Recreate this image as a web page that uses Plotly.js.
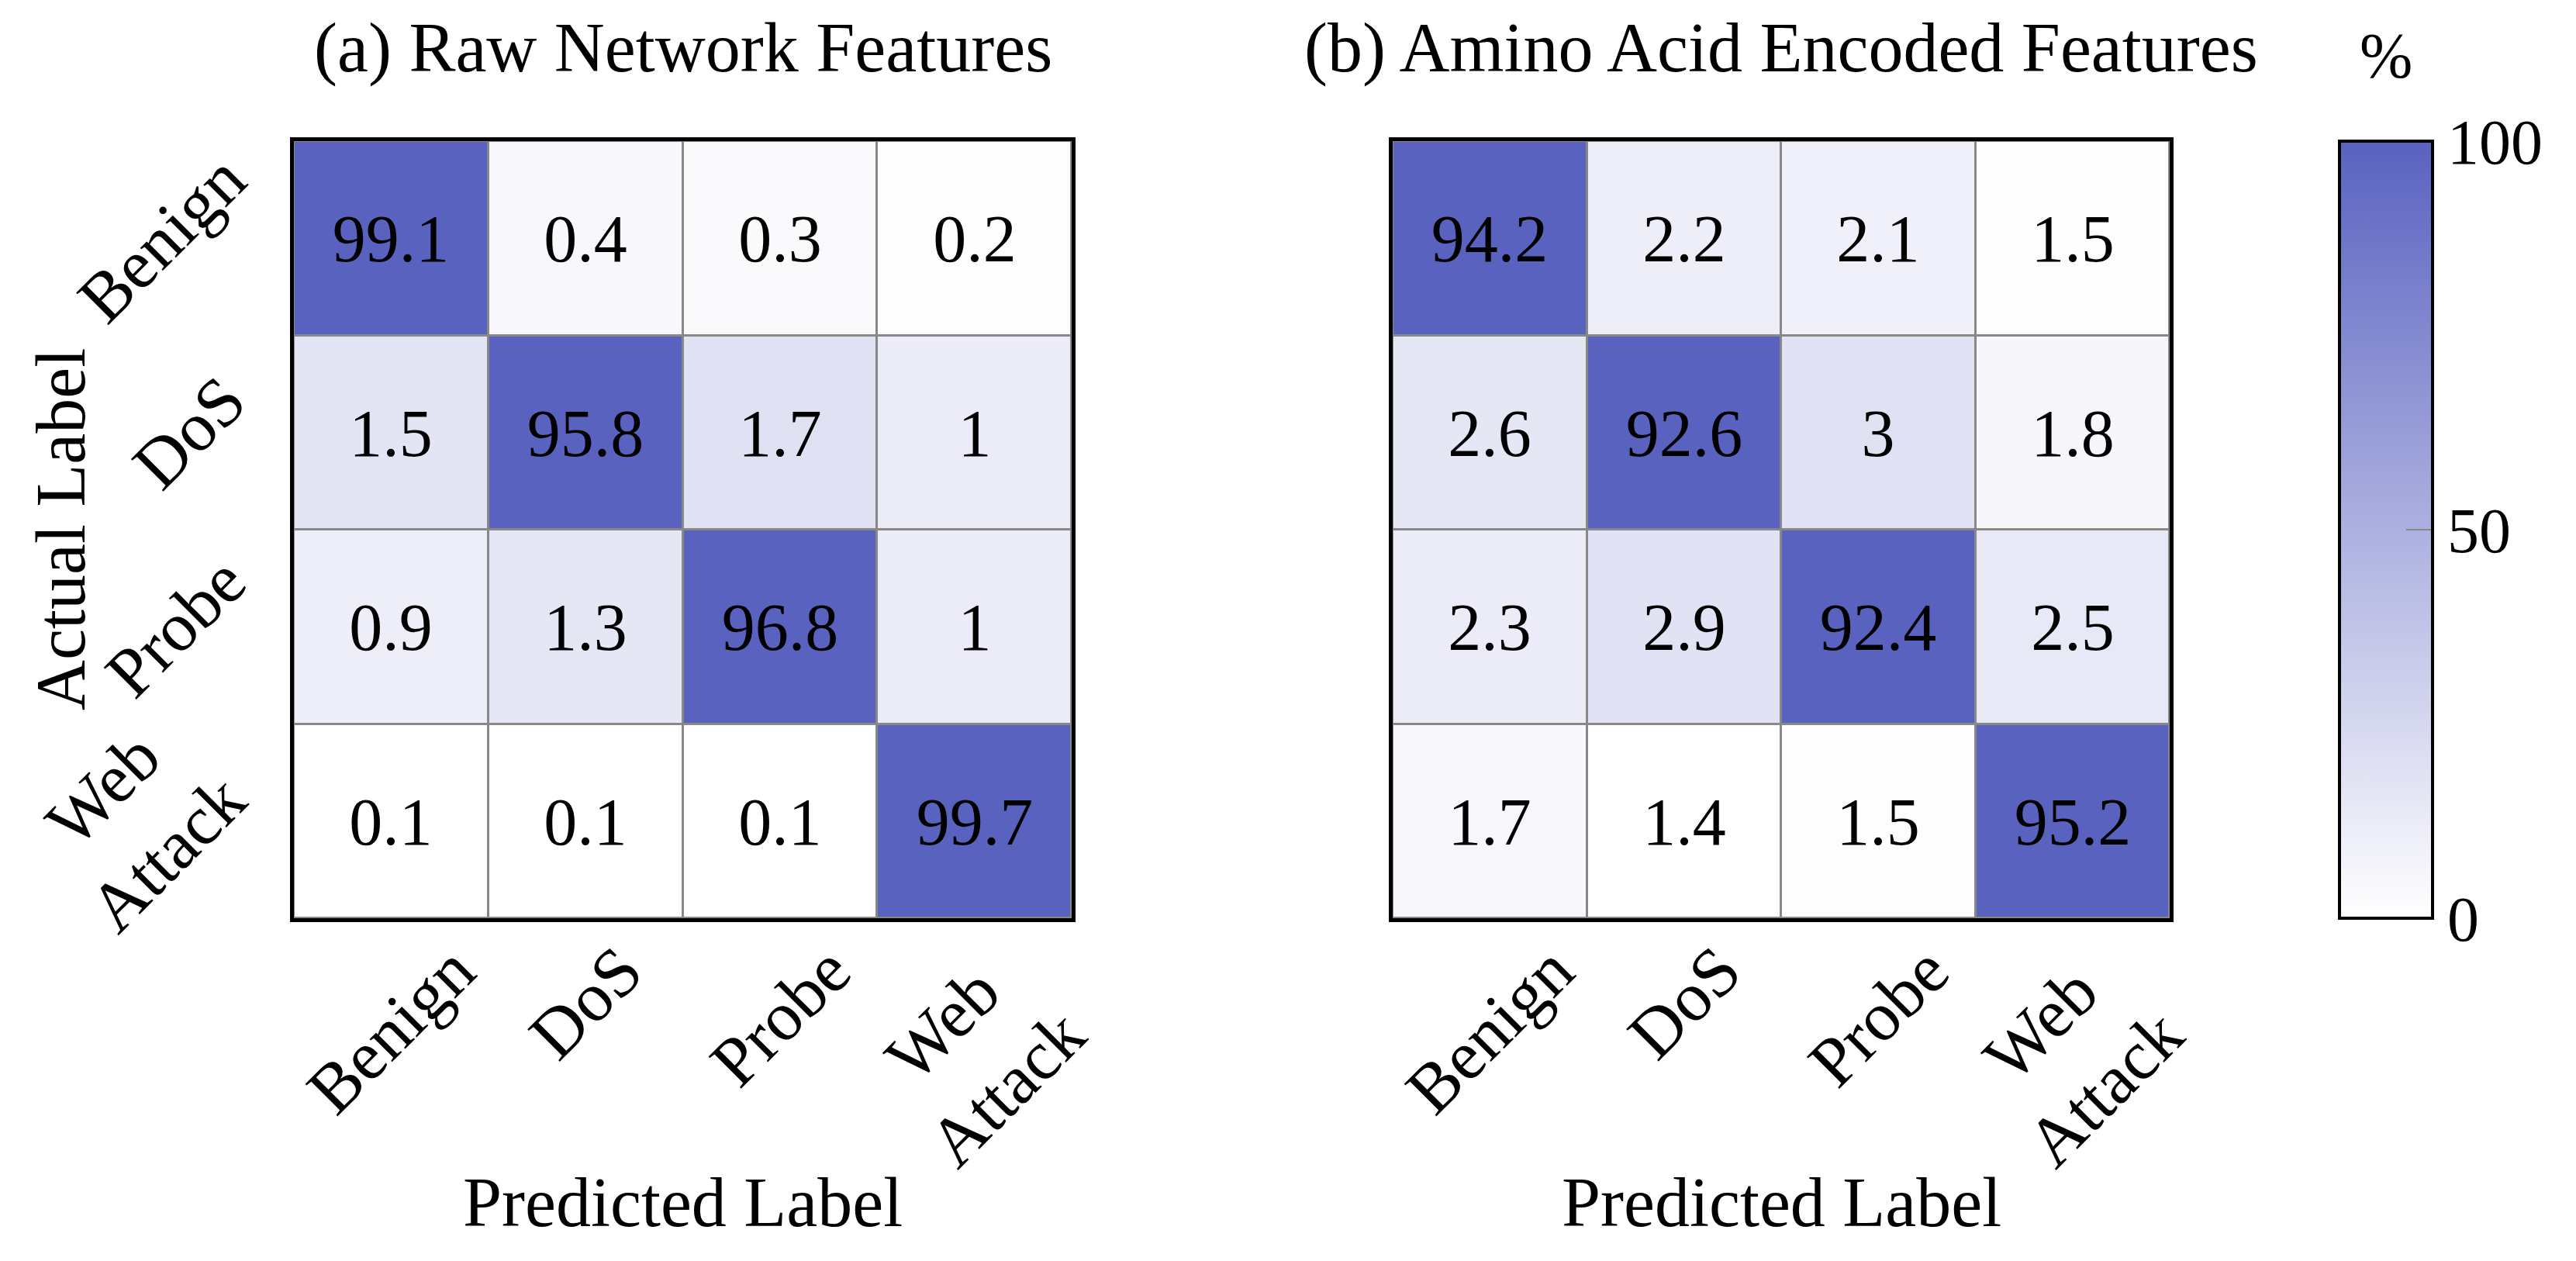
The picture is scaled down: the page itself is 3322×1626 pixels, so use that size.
<!DOCTYPE html>
<html>
<head>
<meta charset="utf-8">
<script src="https://cdn.plot.ly/plotly-3.0.1.min.js"></script>
<style>html,body{margin:0;padding:0;background:#fff;}#chart{width:3322px;height:1626px;}</style>
</head>
<body>
<div id="chart"></div>
<script>
// ---- data ----
const categories = ['Benign', 'DoS', 'Probe', 'Web Attack'];
const tickLabels = ['Benign', 'DoS', 'Probe', 'Web<br>Attack'];
const rawValues = [
  [99.1, 0.4, 0.3, 0.2],
  [1.5, 95.8, 1.7, 1],
  [0.9, 1.3, 96.8, 1],
  [0.1, 0.1, 0.1, 99.7]
];
const aminoValues = [
  [94.2, 2.2, 2.1, 1.5],
  [2.6, 92.6, 3, 1.8],
  [2.3, 2.9, 92.4, 2.5],
  [1.7, 1.4, 1.5, 95.2]
];
const panelTitles = ['(a) Raw Network Features', '(b) Amino Acid Encoded Features'];
const colorbarRange = [0, 100];
const colorbarTicks = [0, 50, 100];

// ---- style ----
const FONT = 'Liberation Serif, Times New Roman, serif';
const BLUE = '#5a62c0';
const cellScale = [[0, '#ffffff'], [0.003, '#f8f8fc'], [0.009, '#ebecf7'], [0.016, '#e0e1f3'], [0.9, BLUE], [1, BLUE]];
const barScale = [[0, '#ffffff'], [1, BLUE]];
const matMin = m => Math.min.apply(null, m.flat());
const catRange = [-0.5, categories.length - 0.5];

function heat(z, xa, ya) {
  return {
    type: 'heatmap', z: z, x: categories, y: categories,
    xaxis: xa, yaxis: ya,
    colorscale: cellScale, zmin: matMin(z), zmax: colorbarRange[1],
    showscale: false, xgap: 3, ygap: 3,
    texttemplate: '%{z}', textfont: {family: FONT, size: 86, color: '#000'},
    hoverinfo: 'skip'
  };
}

const data = [
  heat(rawValues, 'x', 'y'),
  heat(aminoValues, 'x2', 'y2'),
  {
    type: 'scatter', mode: 'markers', x: [categories[0], categories[0]], y: [categories[0], categories[0]],
    xaxis: 'x', yaxis: 'y', hoverinfo: 'skip', showlegend: false,
    marker: {
      size: 0, opacity: 0, color: colorbarRange, cmin: colorbarRange[0], cmax: colorbarRange[1],
      colorscale: barScale, showscale: true,
      colorbar: {
        x: 3017 / 3322, xanchor: 'left', xref: 'paper', xpad: 0, ypad: 0,
        y: 1 - 182 / 1626, yanchor: 'top', len: 1002 / 1626, lenmode: 'fraction',
        thickness: 120, thicknessmode: 'pixels',
        outlinewidth: 4, outlinecolor: '#000',
        tickmode: 'array', tickvals: colorbarTicks, ticktext: colorbarTicks.map(String),
        ticks: 'inside', ticklen: 36, tickcolor: '#888', tickwidth: 2,
        tickfont: {family: FONT, size: 82, color: '#000'}
      }
    }
  }
];

const xd1 = [379 / 3322, 1382 / 3322];
const xd2 = [1796 / 3322, 2798 / 3322];
const yd = [1 - 1184 / 1626, 1 - 182 / 1626];

function xAxis(domain, anchor) {
  return {
    domain: domain, anchor: anchor, type: 'category',
    categoryorder: 'array', categoryarray: categories,
    range: catRange.slice(), autorange: false,
    ticks: '', showticklabels: false, showgrid: false, zeroline: false,
    showline: true, mirror: true, linecolor: '#000', linewidth: 5,
    fixedrange: true
  };
}
function yAxis(anchor) {
  return {
    domain: yd, anchor: anchor, type: 'category',
    categoryorder: 'array', categoryarray: categories,
    range: catRange.slice().reverse(), autorange: false,
    ticks: '', showticklabels: false, showgrid: false, zeroline: false,
    showline: true, mirror: true, linecolor: '#000', linewidth: 5,
    fixedrange: true
  };
}

const annFont = {family: FONT, size: 90, color: '#000'};
const tickFont = {family: FONT, size: 90, color: '#000'};
const annotations = [
  {text: panelTitles[0], x: (xd1[0] + xd1[1]) / 2, y: 1 - 62 / 1626, xref: 'paper', yref: 'paper', xanchor: 'center', yanchor: 'middle', showarrow: false, font: annFont},
  {text: panelTitles[1], x: (xd2[0] + xd2[1]) / 2, y: 1 - 62 / 1626, xref: 'paper', yref: 'paper', xanchor: 'center', yanchor: 'middle', showarrow: false, font: annFont},
  {text: 'Predicted Label', x: (xd1[0] + xd1[1]) / 2, y: 1 - 1550 / 1626, xref: 'paper', yref: 'paper', xanchor: 'center', yanchor: 'middle', showarrow: false, font: annFont},
  {text: 'Predicted Label', x: (xd2[0] + xd2[1]) / 2, y: 1 - 1550 / 1626, xref: 'paper', yref: 'paper', xanchor: 'center', yanchor: 'middle', showarrow: false, font: annFont},
  {text: 'Actual Label', x: 78 / 3322, y: (yd[0] + yd[1]) / 2, xref: 'paper', yref: 'paper', xanchor: 'center', yanchor: 'middle', textangle: -90, showarrow: false, font: annFont},
  {text: '%', x: 3077 / 3322, y: 1 - 72 / 1626, xref: 'paper', yref: 'paper', xanchor: 'center', yanchor: 'middle', showarrow: false, font: {family: FONT, size: 82, color: '#000'}}
];
// category tick labels, rotated 45 degrees and centred on their rows / columns
categories.forEach((c, i) => {
  ['x', 'x2'].forEach(xr => {
    annotations.push({text: tickLabels[i], x: c, xref: xr, y: 1 - 1198 / 1626, yref: 'paper',
      xanchor: 'center', yanchor: 'top', textangle: -45, showarrow: false, font: tickFont});
  });
  annotations.push({text: tickLabels[i], x: 338 / 3322, xref: 'paper', y: c, yref: 'y',
    xanchor: 'right', yanchor: 'middle', textangle: -45, showarrow: false, font: tickFont});
});

const layout = {
  width: 3322, height: 1626,
  margin: {l: 0, r: 0, t: 0, b: 0},
  paper_bgcolor: '#fff', plot_bgcolor: '#888',
  showlegend: false,
  xaxis: xAxis(xd1, 'y'),
  yaxis: yAxis('x'),
  xaxis2: xAxis(xd2, 'y2'),
  yaxis2: yAxis('x2'),
  annotations: annotations
};

Plotly.newPlot('chart', data, layout, {staticPlot: true, displayModeBar: false});
</script>
</body>
</html>
